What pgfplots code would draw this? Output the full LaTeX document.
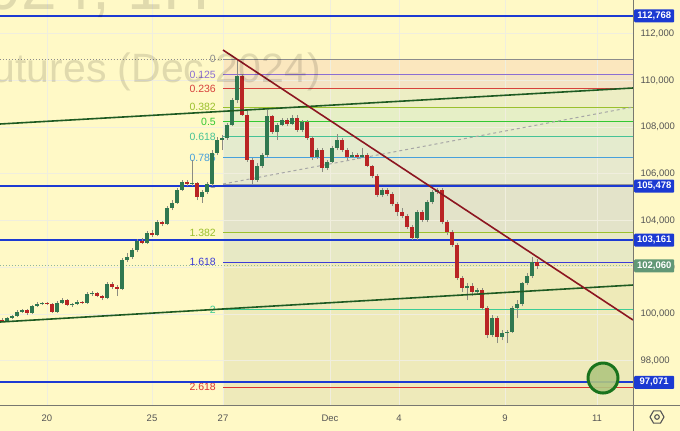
\documentclass[border=0pt]{standalone}
\usepackage{fontspec}
\setmainfont{Liberation Sans}
\usepackage{pgfplots}
\usepackage{pgfplotstable}
\pgfplotsset{compat=1.18}
\usetikzlibrary{shapes.geometric}

\definecolor{bgyel}{RGB}{255,249,198}
\definecolor{gridc}{RGB}{240,238,222}
\definecolor{tvblue}{RGB}{28,58,210}
\definecolor{trendred}{RGB}{140,22,32}
\definecolor{trendgreen}{RGB}{30,90,34}
\definecolor{candleup}{RGB}{48,120,80}
\definecolor{candledn}{RGB}{185,36,36}
\definecolor{wickc}{RGB}{140,140,130}
\definecolor{labelgray}{RGB}{85,85,85}
\definecolor{sepgray}{RGB}{120,120,112}
\definecolor{pricegreen}{RGB}{98,152,118}
\definecolor{circfill}{RGB}{176,198,128}
% fib level colours
\definecolor{f0}{RGB}{140,140,140}
\definecolor{f125}{RGB}{140,110,210}
\definecolor{f236}{RGB}{215,65,60}
\definecolor{f382}{RGB}{155,192,45}
\definecolor{f5}{RGB}{50,200,50}
\definecolor{f618}{RGB}{70,195,150}
\definecolor{f786}{RGB}{70,160,220}
\definecolor{f1}{RGB}{150,150,150}
\definecolor{f1618}{RGB}{60,60,215}
\definecolor{f2}{RGB}{60,205,150}
\definecolor{f2618}{RGB}{220,50,50}
% fib bands
\definecolor{b1}{RGB}{251,231,190}
\definecolor{b2}{RGB}{244,227,196}
\definecolor{b3}{RGB}{237,238,196}
\definecolor{b4}{RGB}{230,239,198}
\definecolor{b5}{RGB}{228,237,201}
\definecolor{b6}{RGB}{228,235,206}
\definecolor{b7}{RGB}{231,233,206}
\definecolor{b8}{RGB}{227,227,201}
\definecolor{b9}{RGB}{231,233,197}
\definecolor{b10}{RGB}{238,234,184}
\definecolor{b11}{RGB}{238,234,186}

% x = position in bars (px), o h l c = price
\pgfplotstableread{
x o h l c
2 99742 99828 99657 99700
7 99700 99871 99657 99828
12 99828 99957 99785 99914
17 99914 100171 99871 100085
22 100085 100214 100042 100171
27 100171 100214 99957 100042
32 100042 100385 99999 100342
37 100342 100513 100299 100428
42 100428 100513 100385 100471
47 100471 100513 100385 100428
52 100428 100471 100042 100085
57 100085 100556 100042 100471
62 100471 100685 100428 100599
67 100599 100642 100342 100385
72 100385 100471 100299 100428
77 100428 100599 100385 100513
82 100513 100556 100428 100471
87 100471 100942 100428 100856
92 100856 100984 100770 100899
97 100899 100942 100727 100770
102 100770 100813 100599 100685
107 100685 101370 100642 101284
112 101284 101370 101070 101156
117 101156 101241 100770 101070
122 101070 102398 101027 102312
127 102312 102612 102227 102441
132 102441 102826 102355 102740
137 102740 103212 102655 103126
142 103126 103254 102997 103040
147 103040 103554 102997 103469
152 103469 103597 103297 103383
157 103383 104025 103340 103940
162 103940 103983 103768 103854
167 103854 104625 103811 104539
172 104539 104882 104454 104754
177 104754 105396 104711 105310
182 105310 105739 105267 105653
187 105653 105739 105482 105567
192 105567 106595 105482 105610
197 105610 105653 104882 105010
202 105010 105310 104754 105225
207 105225 105653 105139 105567
212 105567 107023 105482 106895
217 106895 107580 106809 107452
222 107452 107666 107023 107537
227 107537 108180 107452 108094
232 108094 109251 108051 109165
237 109165 110878 109037 110193
242 110193 110279 108480 108523
247 108523 108737 106510 106595
252 106595 106681 105567 105739
257 105739 106467 105653 106338
262 106338 106895 106253 106809
267 106809 108737 106724 108480
272 108480 108523 107709 107794
277 107794 108180 107452 108094
282 108094 108394 108051 108308
287 108308 108394 108051 108137
292 108137 108523 108094 108394
297 108394 108523 107794 107880
302 107880 108308 107794 108223
307 108223 108308 107452 107537
312 107537 107623 106595 106724
317 106724 107109 106638 107023
322 107023 107109 106081 106253
327 106253 106595 106167 106510
332 106510 107195 106467 107109
337 107109 107709 107023 107452
342 107452 107537 106938 107023
347 107023 107109 106595 106724
352 106724 106938 106681 106809
357 106809 106895 106638 106724
362 106724 107109 106681 106809
367 106809 106895 106295 106338
372 106338 106381 105824 105910
377 105910 105996 105010 105096
382 105096 105396 105010 105310
387 105310 105396 105053 105139
392 105139 105225 104625 104711
397 104711 104796 104197 104368
402 104368 104539 104111 104197
407 104197 104282 103640 103726
412 103726 103811 103169 103254
417 103254 104454 103169 104368
422 104368 104454 103940 104025
427 104025 104882 103940 104796
432 104796 105310 104711 105225
437 105225 105396 105139 105310
442 105310 105396 103854 103940
447 103940 104025 103383 103511
452 103511 103597 102869 102955
457 102955 103040 101456 101541
462 101541 101627 100942 101113
467 101113 101327 100599 101199
472 101199 101327 100770 100942
477 100942 101113 100856 101027
482 101027 101113 100171 100256
487 100256 100342 98971 99100
492 99100 99957 99014 99828
497 99828 99914 98758 99014
502 99014 99314 98886 99186
507 99186 99314 98758 99228
512 99228 100342 99186 100256
517 100256 100599 99828 100428
522 100428 101370 100342 101327
527 101327 101755 101241 101627
532 101627 102441 101541 102227
537 102227 102355 101927 102055
}\candles

\newcommand{\band}[3]{\addplot[fill=#1, draw=none] coordinates {(223,#2) (633,#2) (633,#3) (223,#3)} --cycle;}
\newcommand{\flevel}[3]{%
  \addplot[#1, line width=1bp] coordinates {(223,#2) (633,#2)};
  \node[anchor=east, text=#1, font=\fontsize{10.5bp}{12bp}\selectfont, inner sep=0pt] at (axis cs:216,#2) {#3};}
\newcommand{\pricebox}[3]{\node[fill=#1, text=white, font=\bfseries\fontsize{9.5bp}{11bp}\selectfont, anchor=west, minimum width=40bp, minimum height=13bp, inner sep=0pt, rounded corners=1bp] at (axis cs:634,#2) {#3};}

\begin{document}
\begin{tikzpicture}
\fill[bgyel] (0,0) rectangle (680bp,431bp);
\begin{axis}[
  at={(0,25bp)}, anchor=south west,
  scale only axis, width=633bp, height=406bp,
  xmin=0, xmax=633, ymin=96060, ymax=113448,
  clip=false,
  axis line style={draw=none}, tick style={draw=none},
  major tick length=0pt,
  xtick={47,152,223,330,399,505,597},
  xticklabels={20,25,27,Dec,4,9,11},
  ytick={98000,100000,102000,104000,106000,108000,110000,112000},
  yticklabels={{98,000},{100,000},{102,000},{104,000},{106,000},{108,000},{110,000},{112,000}},
  yticklabel pos=right,
  xticklabel style={font=\fontsize{9.5bp}{11bp}\selectfont, text=labelgray, anchor=base, yshift=-15bp},
  yticklabel style={font=\fontsize{9.5bp}{11bp}\selectfont, text=labelgray, anchor=west, xshift=4bp},
]
% fib background bands
\band{b1}{110908}{110237}
\band{b2}{110237}{109642}
\band{b3}{109642}{108858}
\band{b4}{108858}{108225}
\band{b5}{108225}{107592}
\band{b6}{107592}{106690}
\band{b7}{106690}{105542}
\band{b8}{105542}{103492}
\band{b9}{103492}{102226}
\band{b10}{102226}{100176}
\band{b11}{100176}{96860}
\band{b11}{96860}{96060}

% grid
\pgfplotsinvokeforeach{47,152,223,330,399,505,597}{
  \addplot[gridc, line width=1bp] coordinates {(#1,96060) (#1,113448)};}
\pgfplotsinvokeforeach{98000,100000,102000,104000,106000,108000,110000,112000}{
  \addplot[gridc, line width=1bp] coordinates {(0,#1) (633,#1)};}

% dotted price lines across the chart
\addplot[f0, dotted, line width=1bp] coordinates {(0,110908) (633,110908)};
\addplot[pricegreen!70, dotted, line width=1bp] coordinates {(0,102060) (633,102060)};

% fib levels
\flevel{f0}{110908}{0}
\flevel{f125}{110237}{0.125}
\flevel{f236}{109642}{0.236}
\flevel{f382}{108858}{0.382}
\flevel{f5}{108225}{0.5}
\flevel{f618}{107592}{0.618}
\flevel{f786}{106690}{0.786}
\flevel{f1}{105542}{1}
\flevel{f382}{103492}{1.382}
\flevel{f1618}{102226}{1.618}
\flevel{f2}{100176}{2}
\flevel{f2618}{96860}{2.618}

% horizontal levels
\addplot[tvblue, line width=2bp] coordinates {(0,112768) (633,112768)};
\addplot[tvblue, line width=2bp] coordinates {(0,105478) (633,105478)};
\addplot[tvblue, line width=2bp] coordinates {(0,103161) (633,103161)};
\addplot[tvblue, line width=2bp] coordinates {(0,97071) (633,97071)};

% trend-based extension (dashed)
\addplot[gray!70, dashed, line width=1bp] coordinates {(223,105567) (633,108865)};

% candles, one wick and one body per row
\pgfplotstablegetrowsof{\candles}
\pgfmathtruncatemacro{\lastrow}{\pgfplotsretval-1}
\pgfplotsforeachungrouped \i in {0,...,\lastrow}{%
  \pgfplotstablegetelem{\i}{x}\of\candles \let\cx\pgfplotsretval
  \pgfplotstablegetelem{\i}{o}\of\candles \let\co\pgfplotsretval
  \pgfplotstablegetelem{\i}{h}\of\candles \let\ch\pgfplotsretval
  \pgfplotstablegetelem{\i}{l}\of\candles \let\cl\pgfplotsretval
  \pgfplotstablegetelem{\i}{c}\of\candles \let\cc\pgfplotsretval
  \ifnum\cc<\co\relax \def\ccol{candledn}\else\def\ccol{candleup}\fi
  \edef\doplot{%
    \noexpand\addplot[wickc, line width=1bp] coordinates {(\cx,\cl) (\cx,\ch)};
    \noexpand\addplot[\ccol, line width=3.3bp] coordinates {(\cx,\co) (\cx,\cc)};
  }\doplot
}

% trend lines
\addplot[trendgreen, line width=1.6bp] coordinates {(0,108137) (633,109679)};
\addplot[trendgreen, line width=1.6bp] coordinates {(0,99657) (633,101241)};
\addplot[trendred, line width=1.6bp] coordinates {(223,111306) (633,99742)};

% target circle
\addplot[only marks, mark=*, mark size=15bp,
  mark options={fill=circfill, fill opacity=0.9, draw=trendgreen!85!green, line width=3bp}]
  coordinates {(603,97258)};

% price scale boxes
\pricebox{tvblue}{112768}{112,768}
\pricebox{tvblue}{105478}{105,478}
\pricebox{tvblue}{103161}{103,161}
\pricebox{tvblue}{97071}{97,071}
\pricebox{pricegreen}{102060}{102,060}
\end{axis}

% watermark
\begin{scope}
\clip (0,25bp) rectangle (633bp,431bp);
\node[anchor=base east, text=black, opacity=0.12, font=\fontsize{64bp}{70bp}\selectfont, inner sep=0pt] at (210bp,421bp) {BTCZ2024, 1H};
\node[anchor=base east, text=black, opacity=0.12, font=\fontsize{41bp}{46bp}\selectfont, inner sep=0pt] at (321bp,348bp) {Bitcoin Futures (Dec 2024)};
\end{scope}

% pane separators and settings icon
\draw[sepgray, line width=1bp] (633bp,0) -- (633bp,431bp);
\draw[sepgray, line width=1bp] (0,25bp) -- (680bp,25bp);
\node[regular polygon, regular polygon sides=6, draw=labelgray, line width=1.1bp, minimum size=14bp, inner sep=0pt] at (657bp,14bp) {};
\draw[labelgray, line width=1.1bp] (657bp,14bp) circle (2.3bp);
\pgfresetboundingbox
\path[use as bounding box] (0,0) rectangle (680bp,431bp);
\end{tikzpicture}
\end{document}
